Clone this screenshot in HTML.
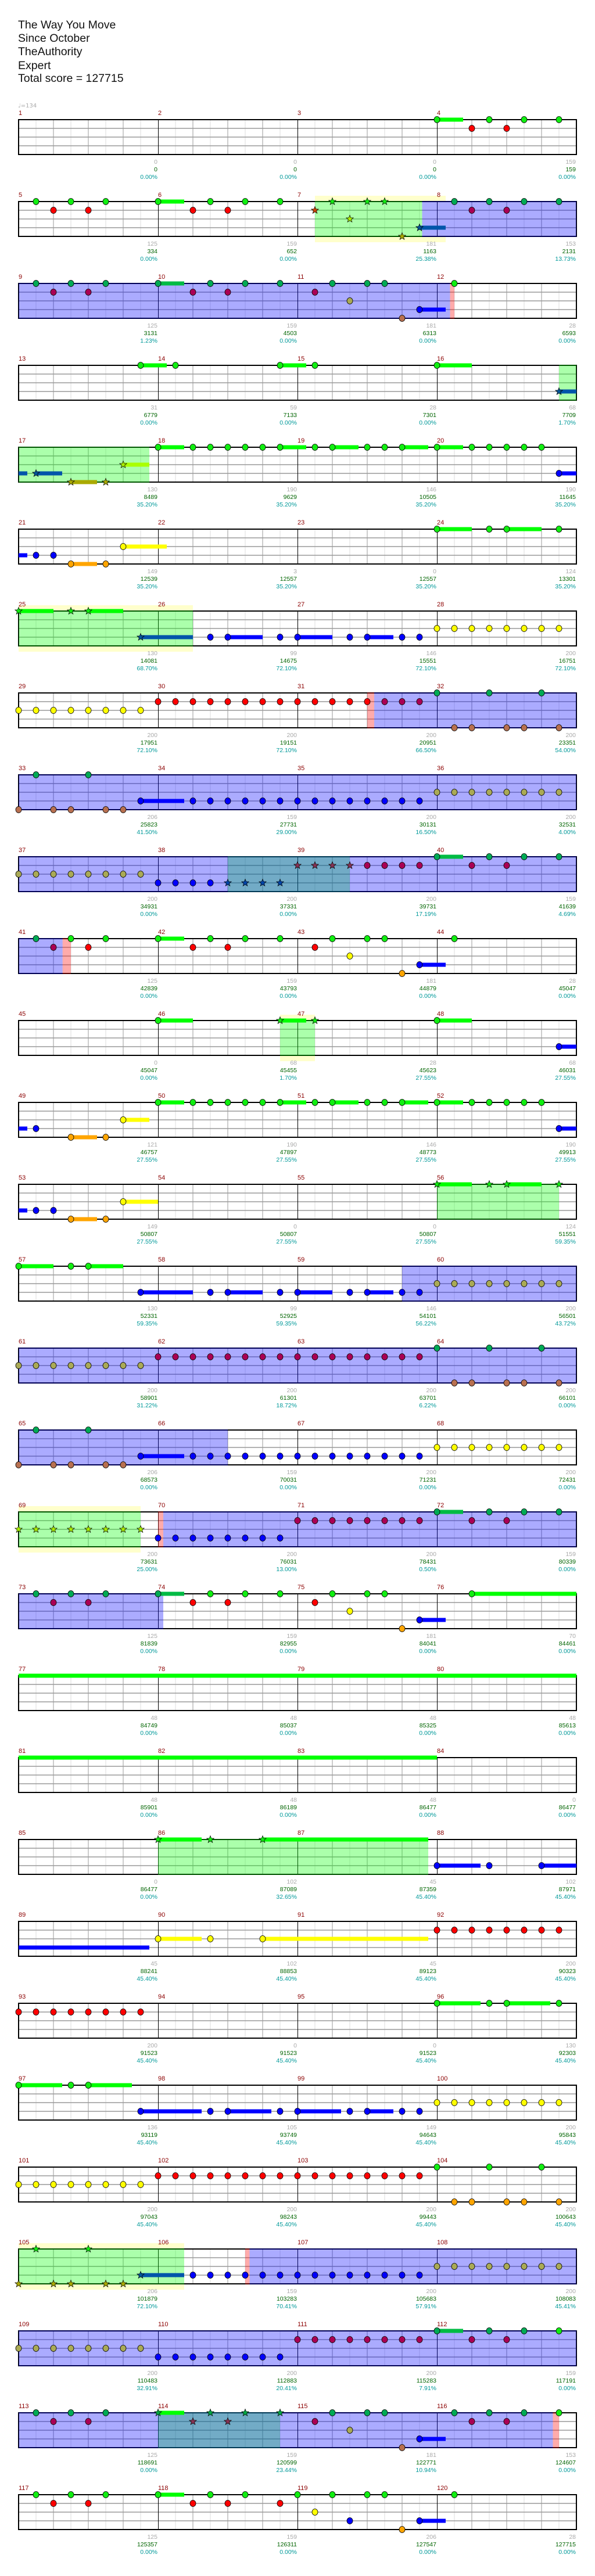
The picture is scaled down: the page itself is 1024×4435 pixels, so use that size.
<!DOCTYPE html>
<html><head><meta charset="utf-8"><style>
html,body{margin:0;padding:0;background:#fff;}
body{width:1024px;height:4435px;position:relative;overflow:hidden;}
.h{position:absolute;left:31px;font-family:"Liberation Sans",sans-serif;font-size:19.5px;color:#111;line-height:1;white-space:nowrap;}
svg{position:absolute;left:0;top:0;}
</style></head><body>
<div class="h" style="top:34px">The Way You Move</div>
<div class="h" style="top:57px">Since October</div>
<div class="h" style="top:80px">TheAuthority</div>
<div class="h" style="top:104px">Expert</div>
<div class="h" style="top:126px">Total score = 127715</div>
<svg id="s" width="1024" height="4435" xmlns="http://www.w3.org/2000/svg">
<text x="31" y="185" font-family="DejaVu Sans, sans-serif" font-size="10" fill="#aaa">♩=134</text>
<text x="35" y="232" font-family="Liberation Sans, sans-serif" font-size="32" font-weight="bold" fill="#aaa">4</text>
<text x="35" y="262" font-family="Liberation Sans, sans-serif" font-size="32" font-weight="bold" fill="#aaa">4</text>
</svg>
<script>
var R=[
["g48-51 r52 g54 r56 g58 g62",[],"0/0/0.00%|0/0/0.00%|0/0/0.00%|159/159/0.00%"],
["g2 r4 g6 r8 g10 g16-19 r20 g22 r24 g26 g30 *r34 *g36 *y38 *g40 *g42 *o44 *b46-49 G50 R52 G54 R56 G58 G62",[["Y",34,49],["G",34,46.3],["B",46.3,64]],"125/334/0.00%|159/652/0.00%|181/1163/25.38%|153/2131/13.73%"],
["G2 R4 G6 R8 G10 G16-19 R20 G22 R24 G26 G30 R34 G36 Y38 G40 G42 O44 b46-49 g50",[["B",0,49.5],["P",49.5,50]],"125/3131/1.23%|159/4503/0.00%|181/6313/0.00%|28/6593/0.00%"],
["g14-17 g18 g30-33 g34 g48-52 *b62-64",[["G",62,64]],"31/6779/0.00%|59/7133/0.00%|28/7301/0.00%|68/7709/1.70%"],
["~*b0-1 *b2-5 *o6-9 *o10 *y12-15 g16-19 g20 g22 g24 g26 g28 g30-33 g34 g36-39 g40 g42 g44-47 g48-51 g52:60 b62-64",[["G",0,15]],"130/8489/35.20%|190/9629/35.20%|146/10505/35.20%|190/11645/35.20%"],
["~b0-1 b2 b4 o6-9 o10 y12-17 g48-52 g54 g56-60 g62",[],"149/12539/35.20%|3/12557/35.20%|0/12557/35.20%|124/13301/35.20%"],
["*g0-4 *g6 *g8-12 *b14-20 b22 b24-28 b30 b32-36 b38 b40-43 b44 b46 y48:62",[["Y",0,20],["G",0,20]],"130/14081/68.70%|99/14675/72.10%|146/15551/72.10%|200/16751/72.10%"],
["y0:14 r16:40 R42:46 G48 G54 G60 O50 O52 O56 O58 O62",[["P",40,40.8],["B",40.8,64]],"200/17951/72.10%|200/19151/72.10%|200/20951/66.50%|200/23351/54.00%"],
["O0 G2 O4 O6 G8 O10 O12 b14-19 b20:46 Y48:62",[["B",0,64]],"206/25823/41.50%|159/27731/29.00%|200/30131/16.50%|200/32531/4.00%"],
["Y0:14 b16:22 *B24:30 *R32:38 R40:46 G48-51 R52 G54 R56 G58 G62",[["G",24,38],["B",0,64]],"200/34931/0.00%|200/37331/0.00%|200/39731/17.19%|159/41639/4.69%"],
["G2 R4 g6 r8 g10 g16-19 r20 g22 r24 g26 g30 r34 g36 y38 g40 g42 o44 b46-49 g50",[["B",0,5.05],["P",5.05,6]],"125/42839/0.00%|159/43793/0.00%|181/44879/0.00%|28/45047/0.00%"],
["g16-20 *g30-33 *g34 g48-52 b62-64",[["Y",30,34],["G",30,34]],"0/45047/0.00%|68/45455/1.70%|28/45623/27.55%|68/46031/27.55%"],
["~b0-1 b2 o6-9 o10 y12-15 g16-19 g20 g22 g24 g26 g28 g30-33 g34 g36-39 g40 g42 g44-47 g48-51 g52:60 b62-64",[],"121/46757/27.55%|190/47897/27.55%|146/48773/27.55%|190/49913/27.55%"],
["~b0-1 b2 b4 o6-9 o10 y12-16 *g48-52 *g54 *g56-60 *g62",[["G",48,62]],"149/50807/27.55%|0/50807/27.55%|0/50807/27.55%|124/51551/59.35%"],
["g0-4 g6 g8-12 b14-20 b22 b24-28 b30 b32-36 b38 b40-43 b44 b46 Y48:62",[["B",44,64]],"130/52331/59.35%|99/52925/59.35%|146/54101/56.22%|200/56501/43.72%"],
["Y0:14 R16:46 G48 G54 G60 O50 O52 O56 O58 O62",[["B",0,64]],"200/58901/31.22%|200/61301/18.72%|200/63701/6.22%|200/66101/0.00%"],
["O0 G2 O4 O6 G8 O10 O12 b14-19 b20:46 y48:62",[["B",0,24]],"206/68573/0.00%|159/70031/0.00%|200/71231/0.00%|200/72431/0.00%"],
["*y0:14 b16:30 R32:46 G48-51 R52 G54 R56 G58 G62",[["Y",0,14],["G",0,14],["P",16,16.6],["B",16.6,64]],"200/73631/25.00%|200/76031/13.00%|200/78431/0.50%|159/80339/0.00%"],
["G2 R4 G6 R8 G10 G16-19 r20 g22 r24 g26 g30 r34 g36 y38 g40 g42 o44 b46-49 g52-64",[["B",0,16.6]],"125/81839/0.00%|159/82955/0.00%|181/84041/0.00%|70/84461/0.00%"],
["~g0-64",[],"48/84749/0.00%|48/85037/0.00%|48/85325/0.00%|48/85613/0.00%"],
["~g0-48",[],"48/85901/0.00%|48/86189/0.00%|48/86477/0.00%|0/86477/0.00%"],
["*g16-21 *g22 *g28-47 b48-53 b54 b60-64",[["G",16,47]],"0/86477/0.00%|102/87089/32.65%|45/87359/45.40%|102/87971/45.40%"],
["~b0-15 y16-21 y22 y28-47 r48:62",[],"45/88241/45.40%|102/88853/45.40%|45/89123/45.40%|200/90323/45.40%"],
["r0:14 g48-53 g54 g56-61 g62",[],"200/91523/45.40%|0/91523/45.40%|0/91523/45.40%|130/92303/45.40%"],
["g0-5 g6 g8-13 b14-21 b22 b24-29 b30 b32-37 b38 b40-43 b44 b46 y48:62",[],"136/93119/45.40%|105/93749/45.40%|149/94643/45.40%|200/95843/45.40%"],
["y0:14 r16:46 g48 g54 g60 o50 o52 o56 o58 o62",[],"200/97043/45.40%|200/98243/45.40%|200/99443/45.40%|200/100643/45.40%"],
["*g2 *g8 *o0 *o4 *o6 *o10 *o12 *b14-19 b20:26 b28:46 Y48:62",[["Y",0,19],["G",0,19],["P",26,26.5],["B",26.5,64]],"206/101879/72.10%|159/103283/70.41%|200/105683/57.91%|200/108083/45.41%"],
["Y0:14 b16:30 R32:46 G48-51 R52 G54 R56 G58 g62",[["B",0,64]],"200/110483/32.91%|200/112883/20.41%|200/115283/7.91%|159/117191/0.00%"],
["G2 R4 G6 R8 G10 *G16-19 *R20 *G22 *R24 *G26 *G30 R34 G36 Y38 G40 G42 O44 b46-49 G50 R52 G54 R56 G58 g62",[["G",16,30],["B",0,61.3],["P",61.3,62]],"125/118691/0.00%|159/120599/23.44%|181/122771/10.94%|153/124607/0.00%"],
["g2 r4 g6 r8 g10 g16-19 r20 g22 r24 g26 r30 g32 y34 g36 b38 g40 g42 o44 b46-49 g50",[],"125/125357/0.00%|159/126311/0.00%|206/127547/0.00%|28/127715/0.00%"]
];
var NS="http://www.w3.org/2000/svg",S=document.getElementById("s");
function E(t,a,txt){var e=document.createElementNS(NS,t);for(var k in a)e.setAttribute(k,a[k]);if(txt!=null)e.textContent=txt;S.appendChild(e);return e;}
function X(u){return 32+u*15;}
var LN="grybo";
var C={n:["#11ee11","#ff0000","#ffff00","#0000ff","#ffa500"],d:["#00aa55","#aa0055","#aaaa55","#0000ff","#b87050"],
 sn:["#00ff00","#ff0000","#ffff00","#0000ff","#ffa500"],sd:["#00bb44","#ff0000","#cccc44","#0000ff","#cc8844"],
 st:["#11ee11","#cc4400","#aaee00","#005599","#aaaa00"],ss:["#00ff00","#cc4400","#aaff00","#0055aa","#aaaa00"],
 sx:["#00aa44","#883355","#99aa44","#0044aa","#998844"]};
var OV={G:"rgba(0,255,0,0.33)",B:"rgba(0,0,255,0.33)",P:"rgba(255,0,0,0.33)"};
function star(cx,cy,r){var p=[];for(var i=0;i<10;i++){var a=-Math.PI/2+i*Math.PI/5,rr=i%2?r*0.42:r;p.push((cx+rr*Math.cos(a)).toFixed(1)+","+(cy+rr*Math.sin(a)).toFixed(1));}return p.join(" ");}
for(var i=0;i<R.length;i++){
 var T=206+141*i,row=R[i];
 row[1].forEach(function(o){if(o[0]=="Y")E("rect",{x:X(o[1]),y:T-10,width:X(o[2])-X(o[1]),height:80,fill:"#ffffcc"});});
 E("rect",{x:32,y:T,width:960,height:60,fill:"#fff"});
 for(var k=1;k<32;k++){var x=32+30*k;if(k%8==0)continue;E("line",{x1:x,y1:T,x2:x,y2:T+60,stroke:k%2?"#dddddd":"#999999","stroke-width":1});}
 for(var h=1;h<4;h++)E("line",{x1:32,y1:T+15*h,x2:992,y2:T+15*h,stroke:"#999999","stroke-width":1.5});
 for(var m=1;m<4;m++)E("line",{x1:32+240*m+.5,y1:T,x2:32+240*m+.5,y2:T+60,stroke:"#000","stroke-width":1});
 E("rect",{x:32,y:T,width:960,height:60,fill:"none",stroke:"#000","stroke-width":2});
 row[1].forEach(function(o){if(o[0]!="Y")E("rect",{x:X(o[1]),y:T-1,width:X(o[2])-X(o[1]),height:62,fill:OV[o[0]]});});
 for(var m=0;m<4;m++)E("text",{x:32+240*m,y:T-8,"font-family":"Liberation Sans, sans-serif","font-size":11,fill:"#8b0000"},String(4*i+m+1));
 var labs=row[2].split("|");
 for(var m=0;m<4;m++){var p=labs[m].split("/"),xe=32+240*(m+1)-1,fa={"font-family":"Liberation Sans, sans-serif","font-size":10.5,"text-anchor":"end"};
  var a1=Object.assign({x:xe,y:T+76,fill:"#aaaaaa"},fa);E("text",a1,p[0]);
  var a2=Object.assign({x:xe,y:T+89,fill:"#006400"},fa);E("text",a2,p[1]);
  var a3=Object.assign({x:xe,y:T+102,fill:"#009999"},fa);E("text",a3,p[2]);}
 var notes=[];
 row[0].split(" ").forEach(function(tok){if(!tok)return;var su=false,st=false;
  while(tok[0]=="~"||tok[0]=="*"){if(tok[0]=="~")su=true;else st=true;tok=tok.slice(1);}
  var L=tok[0],dk=(L!=L.toLowerCase()),ln=LN.indexOf(L.toLowerCase()),r=tok.slice(1);
  if(r.indexOf(":")>=0){var ab=r.split(":");for(var u=+ab[0];u<=+ab[1];u+=2)notes.push({ln:ln,u:u,e:null,dk:dk,st:st,su:su});}
  else if(r.indexOf("-")>0){var ab=r.split("-");notes.push({ln:ln,u:+ab[0],e:+ab[1],dk:dk,st:st,su:su});}
  else notes.push({ln:ln,u:+r,e:null,dk:dk,st:st,su:su});});
 notes.forEach(function(n){if(n.e!=null){var c=n.st?C.ss[n.ln]:(n.dk?C.sd[n.ln]:C.sn[n.ln]);var y=T+15*n.ln;
  E("rect",{x:X(n.u),y:y-3.5,width:X(n.e)-X(n.u),height:7,fill:c});}});
 notes.forEach(function(n){if(n.su)return;var y=T+15*n.ln,x=X(n.u);
  if(n.st){var c=n.dk?C.sx[n.ln]:C.st[n.ln];E("polygon",{points:star(x,y,6.5),fill:c,stroke:"#000","stroke-width":0.7});}
  else{var c=n.dk?C.d[n.ln]:C.n[n.ln];E("ellipse",{cx:x,cy:y,rx:5,ry:5.5,fill:c,stroke:"#000","stroke-width":0.8});}});
}
</script>
</body></html>
